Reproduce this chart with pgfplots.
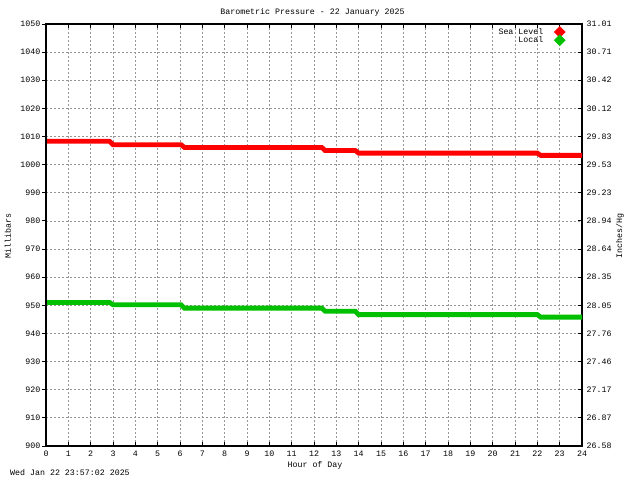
\documentclass[border=0pt]{standalone}
\usepackage{fontspec}
\usepackage{pgfplots}
\pgfplotsset{compat=1.18}
\setmainfont{Liberation Mono}
\newcommand{\pf}{\fontsize{8.3bp}{9bp}\selectfont}
\definecolor{sea}{RGB}{255,0,0}
\definecolor{loc}{RGB}{0,192,0}
\definecolor{gridc}{RGB}{150,150,150}
\begin{document}
\begin{tikzpicture}
\useasboundingbox (-46bp,-34bp) rectangle (594bp,446bp);
\pgfplotsset{
  base/.style={scale only axis, width=536bp, height=422bp, at={(0,0)}, anchor=south west,
    xmin=0, xmax=24, ymin=900, ymax=1050,
    ticklabel style={font=\pf},
    /pgf/number format/assume math mode=true,
    /pgf/number format/1000 sep={},
    ytick={900,910,...,1050}, xtick={0,1,...,24},
    axis line style={line width=1.3bp},
    every tick/.style={black, line width=0.9bp},
    major tick length=4bp}
}
\begin{axis}[base,
  tick align=inside,
  grid=major,
  major grid style={gridc, dash pattern=on 2bp off 2bp, line width=0.8bp},
  ytick pos=right, yticklabel pos=right,
  yticklabels={26.58,26.87,27.17,27.46,27.76,28.05,28.35,28.64,28.94,29.23,29.53,29.83,30.12,30.42,30.71,31.01},
  yticklabel style={anchor=west, inner sep=0pt, xshift=4.5bp},
  xticklabel style={anchor=north, inner sep=0pt, yshift=-5bp},
  legend style={draw=none, fill=none, font=\pf, at={(rel axis cs:0.968,0.993)}, anchor=north east,
    inner sep=0pt, row sep=-1.5bp, nodes={inner sep=1bp}},
  legend cell align=right, legend plot pos=right,
]
\addplot[sea, line width=4.8bp, line cap=round,
  legend image code/.code={\path (0,0); \fill[sea] (13bp,0) +(-2.5bp,0) -- +(0,2.5bp) -- +(2.5bp,0) -- +(0,-2.5bp) -- cycle;}]
  coordinates {(0,1008.3) (2.85,1008.3) (3.0,1007.1) (6.05,1007.1) (6.2,1006.1) (12.35,1006.1) (12.5,1005.0) (13.85,1005.0) (14.0,1004.1) (22.0,1004.1) (22.15,1003.3) (24,1003.3)};
\addlegendentry{Sea Level}
\addplot[loc, line width=4.8bp, line cap=round,
  legend image code/.code={\path (0,0); \fill[loc] (13bp,0) +(-2.5bp,0) -- +(0,2.5bp) -- +(2.5bp,0) -- +(0,-2.5bp) -- cycle;}]
  coordinates {(0,951.0) (2.85,951.0) (3.0,950.2) (6.05,950.2) (6.2,949.0) (12.35,949.0) (12.5,947.9) (13.85,947.9) (14.0,946.7) (22.0,946.7) (22.15,945.8) (24,945.8)};
\addlegendentry{Local}
\end{axis}
\begin{axis}[base, axis x line=none, axis y line*=left, tick align=outside,
  yticklabel style={anchor=east, inner sep=0pt, xshift=-1.5bp}]
\end{axis}
\node[font=\pf] at (266.5bp,433.2bp) {Barometric Pressure - 22 January 2025};
\node[font=\pf, rotate=90] at (-38bp,210bp) {Millibars};
\node[font=\pf, rotate=90] at (574bp,210bp) {Inches/Hg};
\node[font=\pf] at (269bp,-19.5bp) {Hour of Day};
\node[font=\pf, anchor=west, inner sep=0pt] at (-36bp,-26.5bp) {Wed Jan 22 23:57:02 2025};
\end{tikzpicture}
\end{document}
